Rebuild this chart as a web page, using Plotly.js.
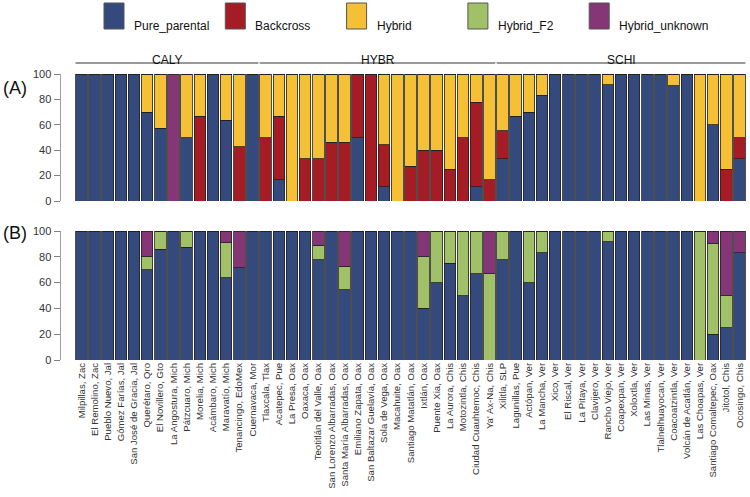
<!DOCTYPE html>
<html>
<head>
<meta charset="utf-8">
<script src="https://cdn.plot.ly/plotly-3.0.1.min.js"></script>
<style>
  body { margin: 0; background: #fff; }
  #chart { width: 750px; height: 497px; }
</style>
</head>
<body>
<div id="chart"></div>
<script>
// populations, in plot order
var sites = [
  "Milpillas, Zac", "El Remolino, Zac", "Pueblo Nuevo, Jal", "Gómez Farías, Jal",
  "San José de Gracia, Jal", "Querétaro, Qro", "El Novillero, Gto", "La Angostura, Mich",
  "Pátzcuaro, Mich", "Morelia, Mich", "Acámbaro, Mich", "Maravatío, Mich",
  "Tenancingo, EdoMex", "Cuernavaca, Mor",
  "Tlaxcala, Tlax", "Acatepec, Pue", "La Presa, Oax", "Oaxaca, Oax",
  "Teotitlán del Valle, Oax", "San Lorenzo Albarradas, Oax", "Santa María Albarradas, Oax",
  "Emiliano Zapata, Oax", "San Baltazar Guelavía, Oax", "Sola de Vega, Oax",
  "Macahuite, Oax", "Santiago Matatlán, Oax", "Ixtlán, Oax", "Puente Xia, Oax",
  "La Aurora, Chis", "Motozintla, Chis", "Ciudad Cuauhtemoc, Chis", "Ya' Ax-Na, Chis",
  "Xilitla, SLP", "Lagunillas, Pue", "Actópan, Ver", "La Mancha, Ver", "Xico, Ver",
  "El Riscal, Ver", "La Pitaya, Ver", "Clavijero, Ver", "Rancho Viejo, Ver",
  "Coapexpan, Ver", "Xoloxtla, Ver", "Las Minas, Ver", "Tlalnelhuayocan, Ver",
  "Coacoatzintla, Ver", "Volcán de Acatlán, Ver", "Las Choapas, Ver",
  "Santiago Comaltepec, Oax", "Jitotol, Chis", "Ocosingo, Chis"
];

// groups across the top
var groupNames = ["CALY", "HYBR", "SCHI"];
var groupSizes = [14, 18, 19];

// classes (stacking order bottom -> top)
var classNames = ["Pure_parental", "Backcross", "Hybrid", "Hybrid_F2", "Hybrid_unknown"];
var classColors = ["#344a7c", "#a61c24", "#f5bf36", "#a0c168", "#853677"];

// (A) percentages
var aPure = [100,100,100,100,100,70,57.1,0,50,0,100,63.6,0,100,
  0,16.7,0,0,0,0,0,50,0,11.1,0,0,0,0,0,0,11.1,0,
  33.3,66.7,70,83.3,100,100,100,100,91.7,100,100,100,100,90.9,100,0,60,0,33.3];
var aBack = [0,0,0,0,0,0,0,0,0,66.7,0,0,42.9,0,
  50,50,0,33.3,33.3,46.2,46.2,50,100,33.3,0,27.3,40,40,25,50,66.7,16.7,
  22.2,0,0,0,0,0,0,0,0,0,0,0,0,0,0,0,0,25,16.7];
var aHyb = [0,0,0,0,0,30,42.9,0,50,33.3,0,36.4,57.1,0,
  50,33.3,100,66.7,66.7,53.8,53.8,0,0,55.6,100,72.7,60,60,75,50,22.2,83.3,
  44.4,33.3,30,16.7,0,0,0,0,8.3,0,0,0,0,9.1,0,100,40,75,50];
var aF2 = [0,0,0,0,0,0,0,0,0,0,0,0,0,0,
  0,0,0,0,0,0,0,0,0,0,0,0,0,0,0,0,0,0,
  0,0,0,0,0,0,0,0,0,0,0,0,0,0,0,0,0,0,0];
var aUnk = [0,0,0,0,0,0,0,100,0,0,0,0,0,0,
  0,0,0,0,0,0,0,0,0,0,0,0,0,0,0,0,0,0,
  0,0,0,0,0,0,0,0,0,0,0,0,0,0,0,0,0,0,0];

// (B) percentages
var bPure = [100,100,100,100,100,70,85.7,100,87.5,100,100,63.6,71.4,100,
  100,100,100,100,77.8,100,54.5,100,100,100,100,100,40,60,75,50,66.7,0,
  77.8,100,60,83.3,100,100,100,100,91.7,100,100,100,100,100,100,0,20,25,83.3];
var bBack = [0,0,0,0,0,0,0,0,0,0,0,0,0,0,
  0,0,0,0,0,0,0,0,0,0,0,0,0,0,0,0,0,0,
  0,0,0,0,0,0,0,0,0,0,0,0,0,0,0,0,0,0,0];
var bHyb = [0,0,0,0,0,0,0,0,0,0,0,0,0,0,
  0,0,0,0,0,0,0,0,0,0,0,0,0,0,0,0,0,0,
  0,0,0,0,0,0,0,0,0,0,0,0,0,0,0,0,0,0,0];
var bF2 = [0,0,0,0,0,10,14.3,0,12.5,0,0,27.3,0,0,
  0,0,0,0,11.1,0,18.2,0,0,0,0,0,40,40,25,50,33.3,66.7,
  22.2,0,40,16.7,0,0,0,0,8.3,0,0,0,0,0,0,100,70,25,0];
var bUnk = [0,0,0,0,0,20,0,0,0,0,0,9.1,28.6,0,
  0,0,0,0,11.1,0,27.3,0,0,0,0,0,20,0,0,0,0,33.3,
  0,0,0,0,0,0,0,0,0,0,0,0,0,0,0,0,10,50,16.7];

var panelA = [aPure, aBack, aHyb, aF2, aUnk];
var panelB = [bPure, bBack, bHyb, bF2, bUnk];

// pixel frame of the plot area, used to place the decorations
var L = 61, R = 748, T = 74, B = 360;
var fx = function(px) { return (px - L) / (R - L); };
var fy = function(py) { return (B - py) / (B - T); };

var data = [];
panelA.forEach(function(vals, i) {
  data.push({
    x: sites, y: vals, type: "bar", name: classNames[i],
    xaxis: "x", yaxis: "y", showlegend: false,
    marker: { color: classColors[i], line: { color: "#222", width: 0.8 } },
    hoverinfo: "x+y+name"
  });
});
panelB.forEach(function(vals, i) {
  data.push({
    x: sites, y: vals, type: "bar", name: classNames[i],
    xaxis: "x2", yaxis: "y2", showlegend: false,
    marker: { color: classColors[i], line: { color: "#222", width: 0.8 } },
    hoverinfo: "x+y+name"
  });
});

var font = "Liberation Sans, Arial, sans-serif";
var xRange = [-1.55, sites.length - 0.35];

var yAxisStyle = {
  range: [0, 100], tickvals: [0, 20, 40, 60, 80, 100],
  showgrid: false, zeroline: false, showline: true,
  linecolor: "#a0a0a0", linewidth: 1.5,
  ticks: "outside", ticklen: 6, tickcolor: "#808080", tickwidth: 1,
  tickfont: { family: font, size: 11, color: "#333" }, fixedrange: true
};

var layout = {
  width: 750, height: 497,
  margin: { l: L, r: 750 - R, t: T, b: 497 - B },
  paper_bgcolor: "#fff", plot_bgcolor: "#fff",
  barmode: "stack", bargap: 0.12,
  font: { family: font, color: "#222" },
  xaxis: { domain: [0, 1], anchor: "y", type: "category", range: xRange,
    showticklabels: false, showline: false, showgrid: false, ticks: "" },
  xaxis2: { domain: [0, 1], anchor: "y2", type: "category", range: xRange,
    showline: false, showgrid: false, ticks: "", tickangle: -90,
    tickfont: { family: font, size: 9.6, color: "#333" } },
  yaxis: Object.assign({ domain: [fy(201), 1], anchor: "x" }, yAxisStyle),
  yaxis2: Object.assign({ domain: [0, fy(231)], anchor: "x2" }, yAxisStyle),
  shapes: [], annotations: []
};

// group brackets
var start = 0;
groupNames.forEach(function(g, i) {
  var end = start + groupSizes[i] - 1;
  layout.shapes.push({ type: "line", xref: "x", yref: "paper",
    x0: start - 0.45, x1: end + 0.45, y0: fy(63), y1: fy(63),
    line: { color: "#333", width: 1.2 } });
  layout.annotations.push({ text: g, xref: "x", yref: "paper",
    x: (start + end) / 2, y: fy(51), showarrow: false,
    font: { family: font, size: 12, color: "#111" } });
  start = end + 1;
});

// panel letters
layout.annotations.push({ text: "(A)", xref: "paper", yref: "paper",
  x: fx(1), y: fy(76), xanchor: "left", showarrow: false,
  font: { family: font, size: 18, color: "#111" } });
layout.annotations.push({ text: "(B)", xref: "paper", yref: "paper",
  x: fx(1), y: fy(233), xanchor: "left", showarrow: false,
  font: { family: font, size: 18, color: "#111" } });

// legend drawn by hand for the large swatches
classNames.forEach(function(nm, i) {
  var left = 104 + i * 121.3;
  layout.shapes.push({ type: "rect", xref: "paper", yref: "paper",
    x0: fx(left), x1: fx(left + 20), y0: fy(29), y1: fy(3),
    fillcolor: classColors[i], line: { color: "#555", width: 1 } });
  layout.annotations.push({ text: nm, xref: "paper", yref: "paper",
    x: fx(left + 28), y: fy(16.5), xanchor: "left", showarrow: false,
    font: { family: font, size: 12, color: "#111" } });
});

Plotly.newPlot("chart", data, layout, { displayModeBar: false, staticPlot: true });
</script>
</body>
</html>
